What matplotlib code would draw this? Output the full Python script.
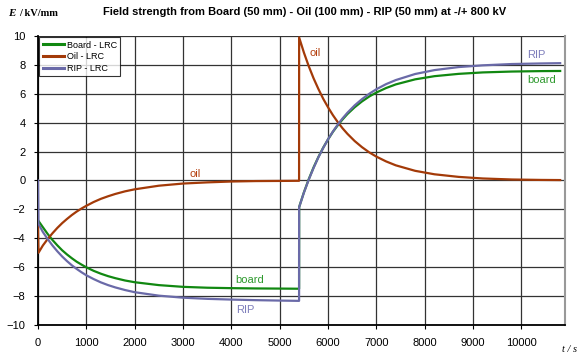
import matplotlib
matplotlib.use("Agg")
import matplotlib.pyplot as plt

# ---- data ----
t = [0, 10, 100, 200, 300, 400, 500, 600, 700, 800, 900, 1000, 1150, 1300, 1450, 1600, 1800, 2000,
     2500, 3000, 3500, 4000, 4500, 5000, 5400,
     5401, 5500, 5600, 5700, 5800, 5900, 6000, 6100, 6200, 6300, 6400, 6550, 6700, 6850, 7000, 7200,
     7400, 7800, 8200, 8700, 9200, 9800, 10400, 10800]

board = [-2.8, -2.8, -3.23, -3.70, -4.12, -4.49, -4.83, -5.12, -5.38, -5.62, -5.82, -6.01, -6.25, -6.45,
         -6.62, -6.76, -6.92, -7.04, -7.24, -7.36, -7.42, -7.45, -7.47, -7.48, -7.49,
         -1.84, -0.82, 0.09, 0.91, 1.63, 2.28, 2.85, 3.37, 3.82, 4.23, 4.60, 5.07, 5.47, 5.81, 6.09, 6.40,
         6.65, 7.00, 7.22, 7.38, 7.48, 7.54, 7.57, 7.58]

oil = [-3.2, -5.0, -4.50, -4.05, -3.65, -3.28, -2.95, -2.66, -2.39, -2.15, -1.94, -1.75, -1.49, -1.27,
       -1.09, -0.93, -0.75, -0.61, -0.36, -0.21, -0.13, -0.07, -0.04, -0.03, -0.02,
       9.9, 8.85, 7.91, 7.07, 6.33, 5.65, 5.06, 4.52, 4.04, 3.61, 3.23, 2.73, 2.31, 1.95, 1.65, 1.32,
       1.05, 0.67, 0.43, 0.25, 0.14, 0.07, 0.04, 0.03]

rip = [0.0, -3.0, -3.56, -4.05, -4.50, -4.90, -5.26, -5.58, -5.87, -6.12, -6.35, -6.56, -6.82, -7.05,
       -7.24, -7.40, -7.58, -7.73, -7.97, -8.11, -8.19, -8.24, -8.28, -8.31, -8.33,
       -1.85, -0.84, 0.06, 0.87, 1.61, 2.26, 2.86, 3.39, 3.87, 4.30, 4.69, 5.20, 5.63, 6.00, 6.32, 6.67,
       6.95, 7.37, 7.64, 7.85, 7.97, 8.06, 8.10, 8.12]

xticks = [0, 1000, 2000, 3000, 4000, 5000, 6000, 7000, 8000, 9000, 10000]
yticks = [-10, -8, -6, -4, -2, 0, 2, 4, 6, 8, 10]

labels = [("oil", 3250, 0.45, "#b5400f"), ("board", 4380, -6.9, "#2e9a2e"), ("RIP", 4280, -8.97, "#7d7dbb"),
          ("oil", 5727, 8.85, "#b5400f"), ("RIP", 10310, 8.67, "#7d7dbb"), ("board", 10410, 6.94, "#2e9a2e")]

c_board = "#118811"
c_oil = "#a33a08"
c_rip = "#6a6aa8"

plt.rcParams['font.family'] = ['Liberation Sans', 'DejaVu Sans']

fig = plt.figure(figsize=(5.79, 3.56), dpi=100)
ax = fig.add_axes([38/579, 1-325/356, (565-38)/579, (325-36)/356])

for ys, c, lab in [(board, c_board, "Board - LRC"), (oil, c_oil, "Oil - LRC"), (rip, c_rip, "RIP - LRC")]:
    ax.plot(t, ys, color=c, lw=1.6, label=lab, zorder=3, solid_joinstyle='round')

ax.set_xlim(0, 10900)
ax.set_ylim(-10, 10)
ax.set_xticks(xticks)
ax.set_yticks(yticks)
ax.tick_params(labelsize=8, direction='out', length=3, width=0.8, pad=6)
ax.grid(True, color="#333333", lw=0.9)
ax.set_axisbelow(True)
for s in ['left', 'bottom']:
    ax.spines[s].set_color('black')
    ax.spines[s].set_linewidth(1.3)
ax.spines['top'].set_visible(False)
ax.spines['right'].set_color('#999999')
ax.spines['right'].set_linewidth(1.5)

for txt, x, y, c in labels:
    ax.text(x, y, txt, color=c, fontsize=8, ha='center', va='center')

leg = ax.legend(loc='upper left', fontsize=6.5, frameon=True, fancybox=False, edgecolor='black',
                borderpad=0.35, labelspacing=0.3, handlelength=2.4, handletextpad=0.3,
                borderaxespad=0.15)
leg.get_frame().set_linewidth(0.8)
for l in leg.get_lines():
    l.set_linewidth(2.2)

fig.text(305/579, 1-12/356, "Field strength from Board (50 mm) - Oil (100 mm) - RIP (50 mm) at -/+ 800 kV",
         ha='center', va='center', fontsize=8, fontweight='bold')
fig.text(8/579, 1-14/356, "E", fontsize=8, ha='left', va='center',
         family='Liberation Serif', style='italic', fontweight='bold')
fig.text(19/579, 1-14/356, "/ kV/mm", fontsize=7.5, ha='left', va='center',
         family='Liberation Serif', fontweight='bold')
fig.text(577/579, 1-350/356, "t / s", fontsize=7.5, ha='right', va='center',
         family='Liberation Serif', style='italic')

fig.savefig("out.png", dpi=100)
